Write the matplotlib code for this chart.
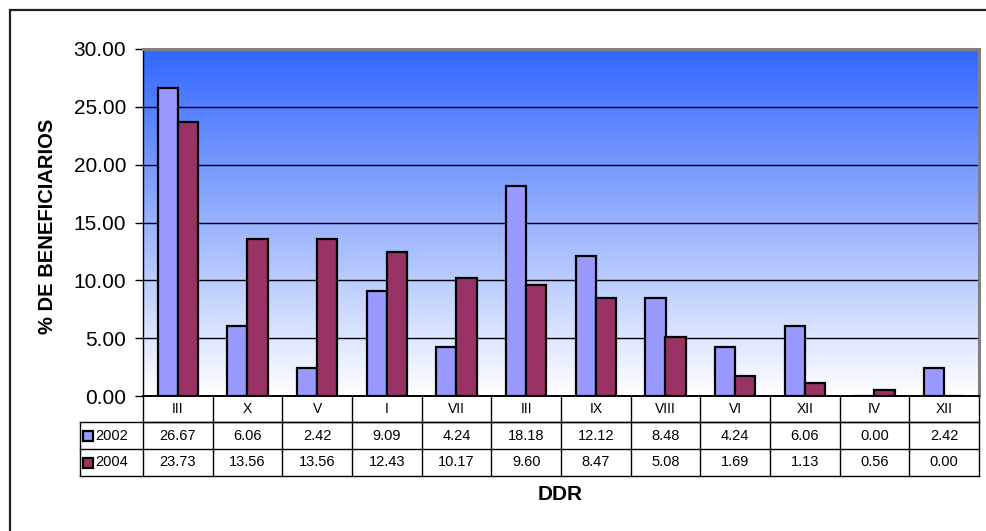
import matplotlib.pyplot as plt
import matplotlib.transforms as mtransforms
from matplotlib.patches import Rectangle
import numpy as np

# --- datos ---
ddr = ["III", "X", "V", "I", "VII", "III", "IX", "VIII", "VI", "XII", "IV", "XII"]
anios = ["2002", "2004"]
v2002 = [26.67, 6.06, 2.42, 9.09, 4.24, 18.18, 12.12, 8.48, 4.24, 6.06, 0.00, 2.42]
v2004 = [23.73, 13.56, 13.56, 12.43, 10.17, 9.60, 8.47, 5.08, 1.69, 1.13, 0.56, 0.00]
yticks = [0, 5, 10, 15, 20, 25, 30]

colores = ["#9999FF", "#993366"]

plt.rcParams['font.family'] = ['Liberation Sans', 'DejaVu Sans']

W, H = 987, 531
fig = plt.figure(figsize=(W / 100, H / 100), dpi=100)
fig.patch.set_facecolor("white")

# marco exterior del gráfico
fig.patches.append(Rectangle((10 / W, -0.1), 1.2, 1 - 10 / H + 0.1,
                             transform=fig.transFigure, fill=False,
                             edgecolor="#222222", lw=1.6, zorder=0))

# área de trazado en píxeles
x0, x1, ytop, ybot = 143, 979, 49, 396
ax = fig.add_axes([x0 / W, 1 - ybot / H, (x1 - x0) / W, (ybot - ytop) / H])

n = len(ddr)
ax.set_xlim(-0.5, n - 0.5)
ax.set_ylim(0, 30)

# fondo degradado azul -> blanco
top = np.array([51, 102, 255]) / 255
bot = np.array([1.0, 1.0, 1.0])
t = np.linspace(0, 1, 256)[:, None]
grad = (top * (1 - t) + bot * t)[:, None, :]
ax.imshow(grad, extent=(-0.5, n - 0.5, 0, 30), aspect="auto", zorder=0,
          interpolation="bilinear")

for y in yticks[1:-1]:
    ax.axhline(y, color="black", lw=1.0, zorder=1)

x = np.arange(n)
bw = 0.29
ax.bar(x - bw / 2, v2002, bw, color=colores[0], edgecolor="black", lw=1.6, zorder=3)
ax.bar(x + bw / 2, v2004, bw, color=colores[1], edgecolor="black", lw=1.6, zorder=3)

ax.set_yticks(yticks)
ax.set_yticklabels([f"{v:.2f}" for v in yticks], fontsize=15)
ax.tick_params(axis="y", direction="out", length=6, width=1, pad=6)
ax.set_xticks([])

for s in ["top", "right"]:
    ax.spines[s].set_color("#808080")
    ax.spines[s].set_linewidth(2.2)
ax.spines["left"].set_linewidth(1.0)
ax.spines["bottom"].set_linewidth(1.4)

# tabla de datos bajo el eje
tr = mtransforms.blended_transform_factory(ax.transData, ax.transAxes)
hpx = ybot - ytop
fila = [(396 - p) / hpx for p in (396, 422, 449, 476)]
xh = -0.5 - (x0 - 80) / ((x1 - x0) / n)

kw = dict(transform=tr, clip_on=False, color="black", lw=1.0)
# líneas horizontales
ax.plot([-0.5, n - 0.5], [fila[1], fila[1]], **kw)
ax.plot([xh, n - 0.5], [fila[1], fila[1]], **kw)
ax.plot([xh, n - 0.5], [fila[2], fila[2]], **kw)
ax.plot([xh, n - 0.5], [fila[3], fila[3]], **kw)
# líneas verticales
for k in range(n + 1):
    ax.plot([k - 0.5, k - 0.5], [fila[0], fila[3]], **kw)
ax.plot([xh, xh], [fila[1], fila[3]], **kw)

for i, lab in enumerate(ddr):
    ax.text(i, (fila[0] + fila[1]) / 2, lab, transform=tr, ha="center",
            va="center", fontsize=10)
    ax.text(i, (fila[1] + fila[2]) / 2, f"{v2002[i]:.2f}", transform=tr,
            ha="center", va="center", fontsize=10.5)
    ax.text(i, (fila[2] + fila[3]) / 2, f"{v2004[i]:.2f}", transform=tr,
            ha="center", va="center", fontsize=10.5)

# claves de leyenda en la cabecera de filas
cw = (x1 - x0) / n
for j, (anio, c) in enumerate(zip(anios, colores)):
    yc = (fila[j + 1] + fila[j + 2]) / 2
    kx = xh + 3 / cw
    ax.add_patch(Rectangle((kx, yc - 5 / hpx), 10 / cw, 10 / hpx, transform=tr,
                           facecolor=c, edgecolor="black", lw=1.6, clip_on=False))
    ax.text(xh + 15 / cw, yc, anio, transform=tr, ha="left", va="center",
            fontsize=10.5)

fig.text(48 / W, 1 - 226 / H, "% DE BENEFICIARIOS", rotation=90, ha="center",
         va="center", fontsize=14.5, fontweight="bold")
fig.text(560 / W, 1 - 495 / H, "DDR", ha="center", va="center",
         fontsize=15, fontweight="bold")

fig.savefig("out.png", dpi=100)
